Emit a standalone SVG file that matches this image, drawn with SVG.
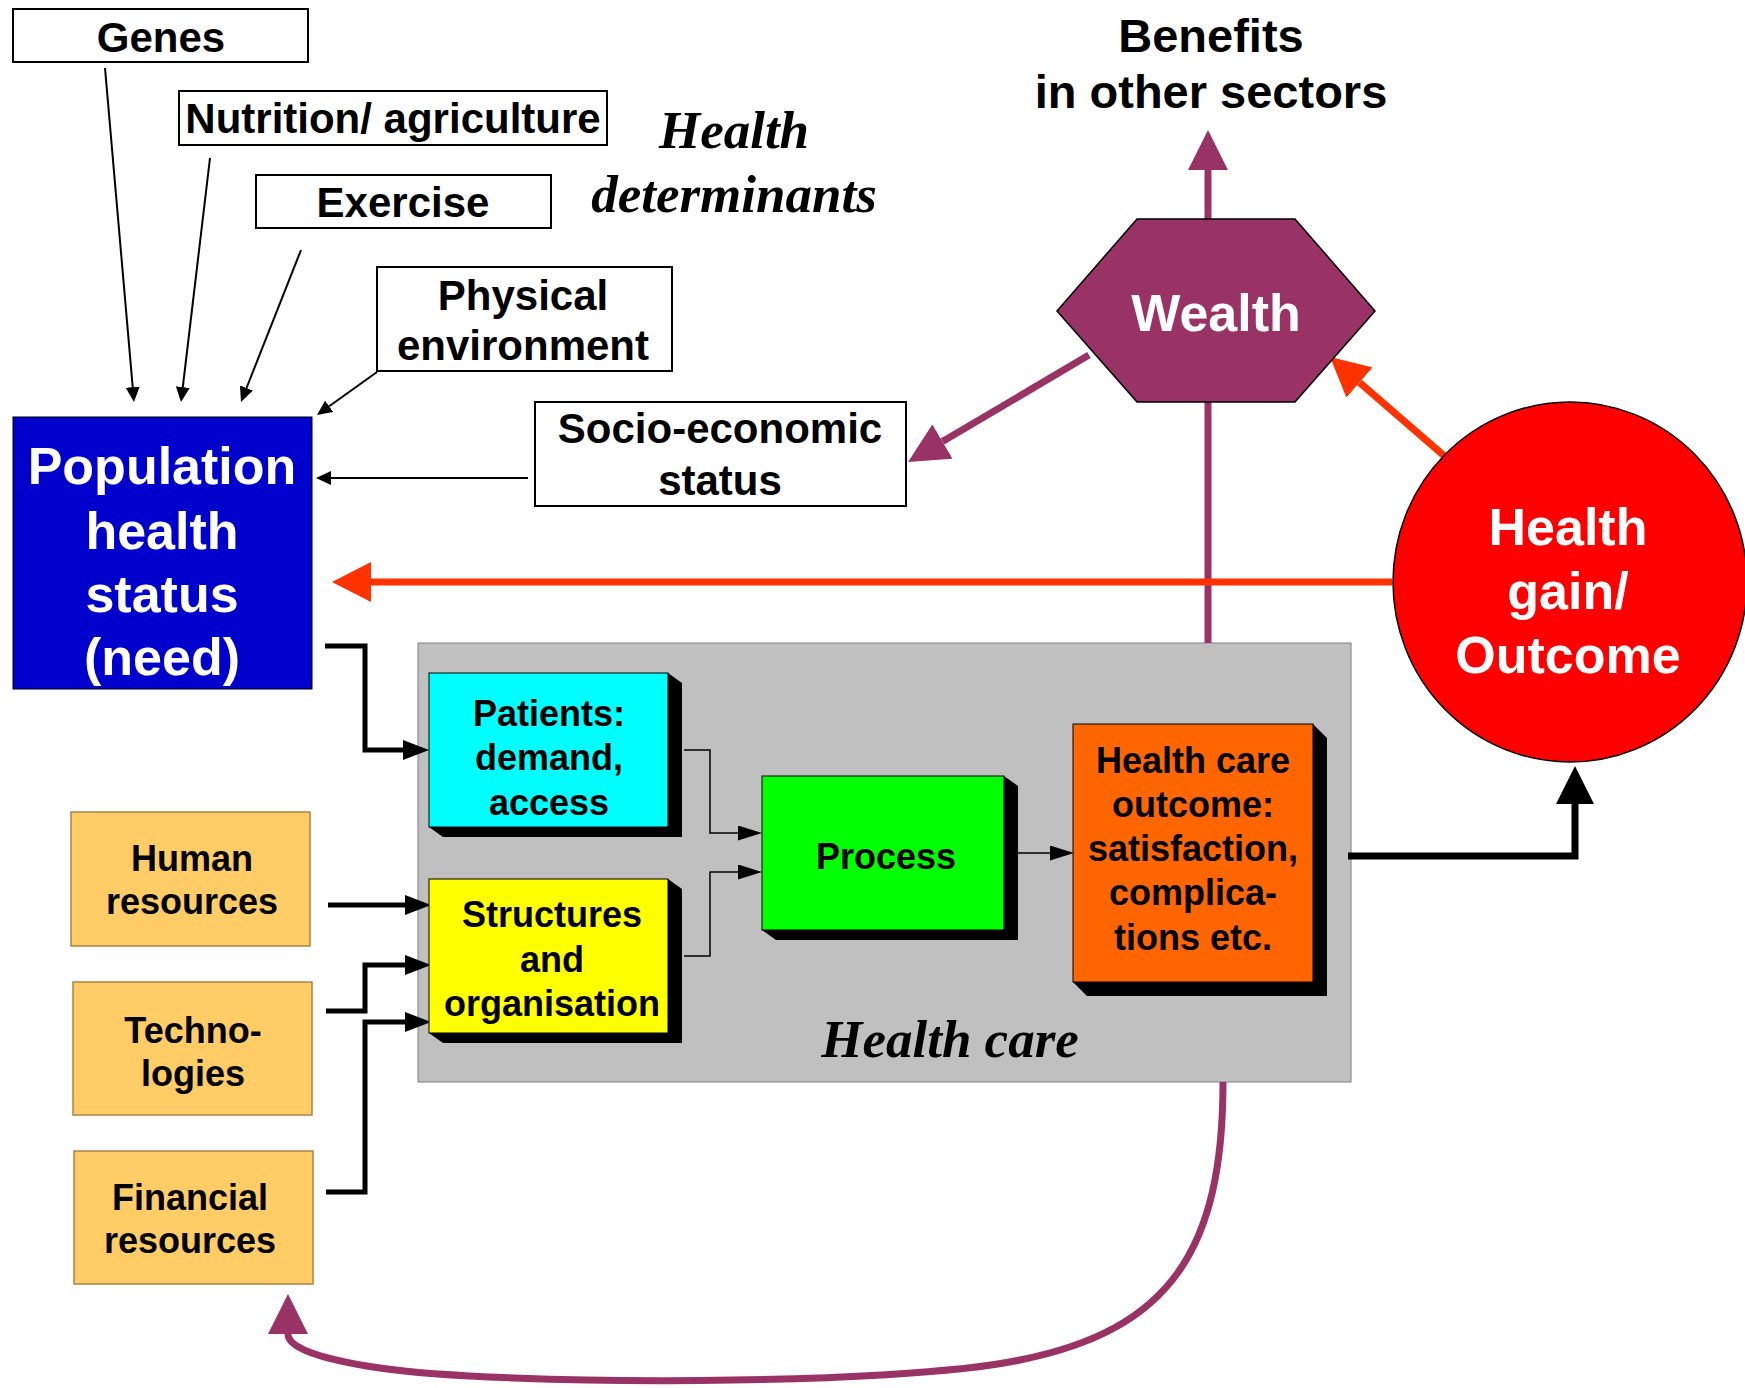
<svg xmlns="http://www.w3.org/2000/svg" width="1745" height="1388" viewBox="0 0 1745 1388">
<style>
.t{font-family:"Liberation Sans",Arial,sans-serif;font-weight:bold;text-anchor:middle}
.s{font-family:"Liberation Serif","Times New Roman",serif;font-weight:bold;font-style:italic;text-anchor:middle;font-size:53px;fill:#000}
.det{fill:#fff;stroke:#000;stroke-width:2}
.res{fill:#FFCC66;stroke:#A8844A;stroke-width:1.5}
.sh{fill:#000}
.thin{fill:none;stroke:#000;stroke-width:2}
.inner{fill:none;stroke:#000;stroke-width:1.5}
.thick{fill:none;stroke:#000;stroke-width:5}
.big{fill:none;stroke:#000;stroke-width:7}
.pur{fill:none;stroke:#993366;stroke-width:7}
.org{fill:none;stroke:#FF3300;stroke-width:7}
</style>
<defs>
<marker id="mThin" markerUnits="userSpaceOnUse" markerWidth="15" markerHeight="14" viewBox="0 0 15 14" refX="0" refY="7" orient="auto"><path d="M0,0 L15,7 L0,14 Z" fill="#000"/></marker>
<marker id="mInner" markerUnits="userSpaceOnUse" markerWidth="24" markerHeight="15" viewBox="0 0 24 15" refX="0" refY="7.5" orient="auto"><path d="M0,0 L24,7.5 L0,15 Z" fill="#000"/></marker>
<marker id="mThick" markerUnits="userSpaceOnUse" markerWidth="26" markerHeight="20" viewBox="0 0 26 20" refX="0" refY="10" orient="auto"><path d="M0,0 L26,10 L0,20 Z" fill="#000"/></marker>
<marker id="mBig" markerUnits="userSpaceOnUse" markerWidth="38" markerHeight="38" viewBox="0 0 38 38" refX="0" refY="19" orient="auto"><path d="M0,0 L38,19 L0,38 Z" fill="#000"/></marker>
<marker id="mPur" markerUnits="userSpaceOnUse" markerWidth="40" markerHeight="40" viewBox="0 0 40 40" refX="0" refY="20" orient="auto"><path d="M0,0 L40,20 L0,40 Z" fill="#993366"/></marker>
<marker id="mOrg" markerUnits="userSpaceOnUse" markerWidth="39" markerHeight="40" viewBox="0 0 39 40" refX="0" refY="20" orient="auto"><path d="M0,0 L39,20 L0,40 Z" fill="#FF3300"/></marker>
</defs>
<rect width="1745" height="1388" fill="#fff"/>

<g id="health-care">
<rect x="418" y="643" width="933" height="439" fill="#C0C0C0" stroke="#808080" stroke-width="1"/>
<text class="s" x="950" y="1057">Health care</text>
</g>

<g id="connectors">
<line class="thin" x1="105" y1="68" x2="132.7" y2="387.1" marker-end="url(#mThin)"/>
<line class="thin" x1="210" y1="158" x2="182.8" y2="387.1" marker-end="url(#mThin)"/>
<line class="thin" x1="301" y1="250" x2="246.5" y2="388" marker-end="url(#mThin)"/>
<line class="thin" x1="377" y1="372" x2="329.2" y2="406.3" marker-end="url(#mThin)"/>
<line class="thin" x1="528" y1="478" x2="331" y2="478" marker-end="url(#mThin)"/>
<line class="pur" x1="1089" y1="355" x2="942.5" y2="441.6" marker-end="url(#mPur)"/>
<line class="pur" x1="1208" y1="219" x2="1208" y2="170" marker-end="url(#mPur)"/>
<line class="pur" x1="1208" y1="402" x2="1208" y2="643"/>
<line class="org" x1="1449" y1="460" x2="1359.5" y2="382.5" marker-end="url(#mOrg)"/>
<line class="org" x1="1392" y1="582" x2="371" y2="582" marker-end="url(#mOrg)"/>
<path class="thick" d="M325,646 H365 V750 H403" marker-end="url(#mThick)"/>
<path class="thick" d="M328,905 H405" marker-end="url(#mThick)"/>
<path class="thick" d="M326,1011 H365 V965 H405" marker-end="url(#mThick)"/>
<path class="thick" d="M326,1192 H365 V1022 H405" marker-end="url(#mThick)"/>
<path class="inner" d="M684,750 H710 V833 H738" marker-end="url(#mInner)"/>
<path class="inner" d="M684,956 H710 V872 H738" marker-end="url(#mInner)"/>
<path class="inner" d="M1018,853 H1050" marker-end="url(#mInner)"/>
<path class="big" d="M1348,856 H1575 V804" marker-end="url(#mBig)"/>
<path class="pur" d="M1223,1082 C1223,1250 1170,1330 1020,1360 C900,1386 500,1386 380,1368 C312,1358 288,1346 288,1334" marker-end="url(#mPur)"/>
</g>

<g id="genes"><rect class="det" x="13" y="9" width="295" height="53"/><text class="t" x="161" y="52" font-size="42">Genes</text></g>
<g id="nutrition"><rect class="det" x="179" y="91" width="428" height="54"/><text class="t" x="393" y="133" font-size="42">Nutrition/ agriculture</text></g>
<g id="exercise"><rect class="det" x="256" y="175" width="295" height="53"/><text class="t" x="403" y="217" font-size="42">Exercise</text></g>
<g id="physical"><rect class="det" x="377" y="267" width="295" height="104"/><text class="t" x="523" y="310" font-size="42">Physical</text><text class="t" x="523" y="360" font-size="42">environment</text></g>
<g id="socio"><rect class="det" x="535" y="402" width="371" height="104"/><text class="t" x="720" y="443" font-size="42">Socio-economic</text><text class="t" x="720" y="495" font-size="42">status</text></g>
<g id="health-determinants"><text class="s" x="734" y="148">Health</text><text class="s" x="734" y="212">determinants</text></g>
<g id="benefits"><text class="t" x="1211" y="52" font-size="47">Benefits</text><text class="t" x="1211" y="108" font-size="47">in other sectors</text></g>

<g id="wealth"><polygon points="1137,219 1295,219 1375,311 1295,402 1137,402 1057,311" fill="#993366" stroke="#000" stroke-width="1.5"/><text class="t" x="1216" y="331" font-size="52" fill="#fff">Wealth</text></g>

<g id="health-gain"><ellipse cx="1570" cy="582" rx="177" ry="180" fill="#FF0000" stroke="#000" stroke-width="1.5"/><text class="t" x="1568" y="545" font-size="52" fill="#fff">Health</text><text class="t" x="1568" y="609" font-size="52" fill="#fff">gain/</text><text class="t" x="1568" y="673" font-size="52" fill="#fff">Outcome</text></g>

<g id="population"><rect x="13" y="417" width="299" height="272" fill="#0000CC" stroke="#000" stroke-width="1"/><text class="t" x="162" y="484" font-size="52" fill="#fff">Population</text><text class="t" x="162" y="549" font-size="52" fill="#fff">health</text><text class="t" x="162" y="612" font-size="52" fill="#fff">status</text><text class="t" x="162" y="675" font-size="52" fill="#fff">(need)</text></g>

<g id="patients"><polygon class="sh" points="668,673 682,683 682,837 443,837 429,827 668,827"/><rect x="429" y="673" width="239" height="154" fill="#00FFFF" stroke="#000" stroke-width="1"/><text class="t" x="549" y="726" font-size="36">Patients:</text><text class="t" x="549" y="770" font-size="36">demand,</text><text class="t" x="549" y="815" font-size="36">access</text></g>

<g id="structures"><polygon class="sh" points="668,879 682,889 682,1043 443,1043 429,1033 668,1033"/><rect x="429" y="879" width="239" height="154" fill="#FFFF00" stroke="#000" stroke-width="1"/><text class="t" x="552" y="927" font-size="36">Structures</text><text class="t" x="552" y="972" font-size="36">and</text><text class="t" x="552" y="1016" font-size="36">organisation</text></g>

<g id="process"><polygon class="sh" points="1004,776 1018,786 1018,940 776,940 762,930 1004,930"/><rect x="762" y="776" width="242" height="154" fill="#00FF00" stroke="#000" stroke-width="1"/><text class="t" x="886" y="869" font-size="36">Process</text></g>

<g id="hc-outcome"><polygon class="sh" points="1313,724 1327,738 1327,996 1087,996 1073,982 1313,982"/><rect x="1073" y="724" width="240" height="258" fill="#FF6600" stroke="#000" stroke-width="1"/><text class="t" x="1193" y="773" font-size="36">Health care</text><text class="t" x="1193" y="817" font-size="36">outcome:</text><text class="t" x="1193" y="861" font-size="36">satisfaction,</text><text class="t" x="1193" y="905" font-size="36">complica-</text><text class="t" x="1193" y="950" font-size="36">tions etc.</text></g>

<g id="human"><rect class="res" x="71" y="812" width="239" height="134"/><text class="t" x="192" y="871" font-size="36">Human</text><text class="t" x="192" y="914" font-size="36">resources</text></g>
<g id="technologies"><rect class="res" x="73" y="982" width="239" height="133"/><text class="t" x="193" y="1043" font-size="36">Techno-</text><text class="t" x="193" y="1086" font-size="36">logies</text></g>
<g id="financial"><rect class="res" x="74" y="1151" width="239" height="133"/><text class="t" x="190" y="1210" font-size="36">Financial</text><text class="t" x="190" y="1253" font-size="36">resources</text></g>
</svg>
